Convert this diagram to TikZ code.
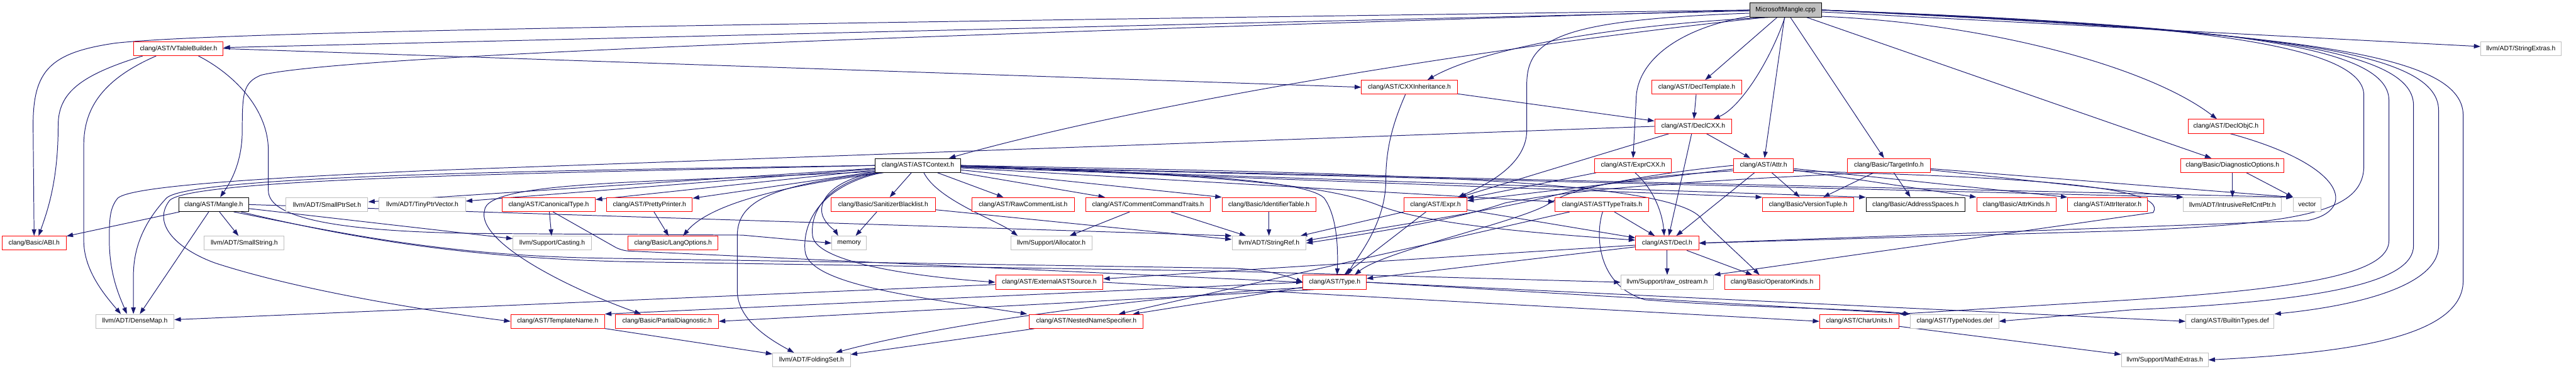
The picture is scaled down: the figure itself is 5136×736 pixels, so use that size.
\documentclass[tikz,border=0pt]{standalone}
\usepackage{fontspec}
\setmainfont{Liberation Sans}
\usetikzlibrary{arrows.meta,calc}
\definecolor{DepEdge}{HTML}{191970}
\definecolor{DepRed}{HTML}{FF0000}
\definecolor{DepGrey}{HTML}{BFBFBF}
\pgfdeclarelayer{edges}
\pgfsetlayers{edges,main}
\tikzset{
  every node/.style={font=\fontsize{7.4}{9}\selectfont, text=black},
  incfile/.style={rectangle, fill=white, line width=0.7pt, inner sep=0pt,
    minimum height=0.56cm, minimum width=#1*0.02cm},
  redfile/.style={incfile=#1, draw=DepRed},
  blackfile/.style={incfile=#1, draw=black},
  greyfile/.style={incfile=#1, draw=DepGrey},
  rootfile/.style={incfile=#1, draw=black, fill=DepGrey},
  dep/.style={-{Triangle[length=0.26cm,width=0.18cm]}, draw=DepEdge, line width=0.7pt},
}
\begin{document}
\begin{tikzpicture}[x=0.02cm,y=-0.02cm]
  \useasboundingbox (0,0) rectangle (5136,736);
  % rows at y = 20, 97, 174, 252, 330, 408, 485, 563, 641, 718
  \node[rootfile=143] (mm) at (3560,20) {MicrosoftMangle.cpp};
  \node[redfile=178] (vtb) at (356,97) {clang/AST/VTableBuilder.h};
  \node[greyfile=160] (strext) at (5026,97) {llvm/ADT/StringExtras.h};
  \node[redfile=191] (cxxinh) at (2810,174) {clang/AST/CXXInheritance.h};
  \node[redfile=179] (decltpl) at (3383,174) {clang/AST/DeclTemplate.h};
  \node[redfile=154] (declcxx) at (3376,252) {clang/AST/DeclCXX.h};
  \node[redfile=151] (declobjc) at (4438,252) {clang/AST/DeclObjC.h};
  \node[blackfile=171] (astctx) at (1830,330) {clang/AST/ASTContext.h};
  \node[redfile=153] (exprcxx) at (3256,330) {clang/AST/ExprCXX.h};
  \node[redfile=120] (attr) at (3516,330) {clang/AST/Attr.h};
  \node[redfile=165] (tgtinfo) at (3766,330) {clang/Basic/TargetInfo.h};
  \node[redfile=206] (diagopt) at (4451,330) {clang/Basic/DiagnosticOptions.h};
  \node[blackfile=139] (mangle) at (426,408) {clang/AST/Mangle.h};
  \node[greyfile=163] (smallptrset) at (652,408) {llvm/ADT/SmallPtrSet.h};
  \node[greyfile=172] (tinyptrvec) at (842,408) {llvm/ADT/TinyPtrVector.h};
  \node[redfile=186] (canontype) at (1094,408) {clang/AST/CanonicalType.h};
  \node[redfile=171] (prettypr) at (1295,408) {clang/AST/PrettyPrinter.h};
  \node[redfile=208] (sanitizer) at (1761,408) {clang/Basic/SanitizerBlacklist.h};
  \node[redfile=204] (rawcomment) at (2040,408) {clang/AST/RawCommentList.h};
  \node[redfile=248] (commentcmd) at (2289,408) {clang/AST/CommentCommandTraits.h};
  \node[redfile=187] (identtable) at (2530,408) {clang/Basic/IdentifierTable.h};
  \node[redfile=125] (expr) at (2862,408) {clang/AST/Expr.h};
  \node[redfile=187] (asttypetr) at (3194,408) {clang/AST/ASTTypeTraits.h};
  \node[redfile=182] (versiontup) at (3605,408) {clang/Basic/VersionTuple.h};
  \node[blackfile=197] (addrspaces) at (3819,408) {clang/Basic/AddressSpaces.h};
  \node[redfile=158] (attrkinds) at (4020,408) {clang/Basic/AttrKinds.h};
  \node[redfile=159] (attriter) at (4202,408) {clang/AST/AttrIterator.h};
  \node[greyfile=195] (intrref) at (4451,408) {llvm/ADT/IntrusiveRefCntPtr.h};
  \node[greyfile=56] (vector) at (4600,408) {vector};
  \node[redfile=128] (abi) at (68,485) {clang/Basic/ABI.h};
  \node[greyfile=159] (smallstr) at (487,485) {llvm/ADT/SmallString.h};
  \node[greyfile=156] (casting) at (1101,485) {llvm/Support/Casting.h};
  \node[redfile=179] (langopt) at (1342,485) {clang/Basic/LangOptions.h};
  \node[greyfile=69] (memory) at (1693,485) {memory};
  \node[greyfile=162] (allocator) at (2096,485) {llvm/Support/Allocator.h};
  \node[greyfile=147] (stringref) at (2530,485) {llvm/ADT/StringRef.h};
  \node[redfile=126] (decl) at (3324,485) {clang/AST/Decl.h};
  \node[redfile=214] (extast) at (2092,563) {clang/AST/ExternalASTSource.h};
  \node[redfile=126] (type) at (2661,563) {clang/AST/Type.h};
  \node[greyfile=185] (rawos) at (3324,563) {llvm/Support/raw\_ostream.h};
  \node[redfile=189] (opkinds) at (3533,563) {clang/Basic/OperatorKinds.h};
  \node[greyfile=156] (densemap) at (269,641) {llvm/ADT/DenseMap.h};
  \node[redfile=187] (tmplname) at (1112,641) {clang/AST/TemplateName.h};
  \node[redfile=205] (partdiag) at (1330,641) {clang/Basic/PartialDiagnostic.h};
  \node[redfile=227] (nns) at (2166,641) {clang/AST/NestedNameSpecifier.h};
  \node[redfile=158] (charunits) at (3707,641) {clang/AST/CharUnits.h};
  \node[greyfile=176] (typenodes) at (3897,641) {clang/AST/TypeNodes.def};
  \node[greyfile=176] (builtin) at (4446,641) {clang/AST/BuiltinTypes.def};
  \node[greyfile=155] (foldingset) at (1618,718) {llvm/ADT/FoldingSet.h};
  \node[greyfile=173] (mathext) at (4316,718) {llvm/Support/MathExtras.h};

  \begin{pgfonlayer}{edges}
  % MicrosoftMangle.cpp
  \draw[dep] (mm) -- (vtb);
  \draw[dep] (mm.west) .. controls (1500,48) and (450,62) .. (230,86) .. controls (100,105) and (66,140) .. (66,250) -- (abi.north);
  \draw[dep] (mm.west) .. controls (2200,60) and (700,105) .. (520,150) .. controls (485,165) and (483,185) .. (483,260) .. controls (483,330) and (455,370) .. ($(mangle.north)+(13,0)$);
  \draw[dep] (mm.200) .. controls (3000,90) and (2300,200) .. ($(astctx.north)+(62,0)$);
  \draw[dep] (mm.205) .. controls (3200,50) and (2950,100) .. ($(cxxinh.north)+(36,0)$);
  \draw[dep] (mm) -- (decltpl);
  \draw[dep] (mm.-95) .. controls (3530,120) and (3470,215) .. ($(declcxx.north)+(40,0)$);
  \draw[dep] (mm.185) .. controls (3100,40) and (3044,80) .. (3044,170) -- (3044,260) .. controls (3044,330) and (2960,370) .. ($(expr.north)+(45,0)$);
  \draw[dep] (mm.190) .. controls (3350,55) and (3262,120) .. (3262,200) -- (exprcxx.north);
  \draw[dep] (mm) -- (attr);
  \draw[dep] (mm) -- (tgtinfo);
  \draw[dep] (mm) -- (diagopt);
  \draw[dep] (mm.-10) .. controls (3950,45) and (4280,130) .. ($(declobjc.north)+(-18,0)$);
  \draw[dep] (mm) -- (strext);
  \draw[dep] (mm.east) .. controls (4300,45) and (4713,80) .. (4713,190) -- (4713,330) .. controls (4713,420) and (4600,445) .. (4250,460) -- (decl.east);
  \draw[dep] (mm.east) .. controls (4400,50) and (4763,85) .. (4763,200) -- (4763,480) .. controls (4763,545) and (4600,575) .. (4250,598) -- (charunits.north east);
  \draw[dep] (mm.east) .. controls (4450,55) and (4812,90) .. (4812,210) -- (4812,490) .. controls (4812,560) and (4650,600) .. (4250,618) -- (typenodes.east);
  \draw[dep] (mm.east) .. controls (4500,60) and (4862,95) .. (4862,220) -- (4862,490) .. controls (4862,570) and (4700,610) .. (builtin.north east);
  \draw[dep] (mm.east) .. controls (4550,65) and (4911,100) .. (4911,230) -- (4911,560) .. controls (4911,680) and (4650,705) .. (mathext.east);
  % VTableBuilder.h
  \draw[dep] ($(vtb.south west)+(18,0)$) .. controls (160,150) and (116,185) .. (116,250) .. controls (116,360) and (95,420) .. ($(abi.north)+(9,0)$);
  \draw[dep] ($(vtb.south west)+(45,0)$) .. controls (200,160) and (167,220) .. (167,290) -- (167,480) .. controls (167,540) and (210,590) .. ($(densemap.north)+(-28,0)$);
  \draw[dep] (vtb.east) -- (cxxinh.west);
  \draw[dep] ($(vtb.south east)+(-50,0)$) .. controls (470,150) and (535,220) .. (535,300) -- (535,380) .. controls (535,440) and (700,465) .. (1000,466) -- (1480,469) -- (memory.west);
  % Mangle.h
  \draw[dep] (mangle) -- (abi);
  \draw[dep] (mangle) -- (densemap);
  \draw[dep] (mangle) -- (smallstr);
  \draw[dep] (mangle) -- (casting);
  \draw[dep] (mangle.east) -- (stringref.north west);
  \draw[dep] (mangle.-20) .. controls (700,470) and (900,510) .. (1200,515) -- (2450,535) .. controls (2530,537) and (2570,552) .. (type.west);
  \draw[dep] (mangle.-15) .. controls (720,480) and (950,515) .. (1250,522) -- (2450,541) -- (rawos.west);
  % ASTContext.h
  \draw[dep] (astctx) -- (smallptrset);
  \draw[dep] (astctx) -- (tinyptrvec);
  \draw[dep] (astctx) -- (canontype);
  \draw[dep] (astctx) -- (prettypr);
  \draw[dep] (astctx.192) .. controls (1600,365) and (1420,400) .. ($(langopt.north)+(20,0)$);
  \draw[dep] (astctx.south west) .. controls (1660,360) and (1630,400) .. (1640,430) .. controls (1648,450) and (1665,460) .. ($(memory.north)+(-22,0)$);
  \draw[dep] (astctx.west) .. controls (1100,340) and (380,350) .. (332,395) .. controls (290,440) and (266,490) .. (266,550) -- ($(densemap.north)+(-3,0)$);
  \draw[dep] (astctx.west) .. controls (1100,345) and (380,355) .. (338,400) .. controls (300,450) and (360,500) .. (430,525) .. controls (600,580) and (850,620) .. (tmplname.west);
  \draw[dep] (astctx.188) .. controls (1300,365) and (970,360) .. (966,420) .. controls (950,480) and (1120,570) .. ($(partdiag.north)+(-52,0)$);
  \draw[dep] ($(astctx.south west)+(3,0)$) .. controls (1540,370) and (1470,400) .. (1470,470) -- (1470,580) .. controls (1470,640) and (1540,680) .. ($(foldingset.north)+(-35,0)$);
  \draw[dep] ($(astctx.south west)+(8,0)$) .. controls (1650,365) and (1615,420) .. (1620,470) .. controls (1625,520) and (1800,550) .. (extast.west);
  \draw[dep] ($(astctx.south west)+(13,0)$) .. controls (1640,370) and (1600,440) .. (1605,500) .. controls (1610,570) and (1850,595) .. ($(nns.north west)+(-4,0)$);
  \draw[dep] ($(astctx.south)+(12,0)$) .. controls (1870,400) and (1990,440) .. ($(allocator.north)+(-67,0)$);
  \draw[dep] (astctx) -- (sanitizer);
  \draw[dep] (astctx) -- (rawcomment);
  \draw[dep] (astctx) -- (commentcmd);
  \draw[dep] (astctx) -- (identtable.north west);
  \draw[dep] (astctx) -- (asttypetr);
  \draw[dep] (astctx) -- (versiontup.north west);
  \draw[dep] (astctx) -- (addrspaces.north west);
  \draw[dep] (astctx) -- (intrref.north west);
  \draw[dep] (astctx) -- (vector.north west);
  \draw[dep] (astctx.east) .. controls (2300,345) and (2600,355) .. (2640,395) .. controls (2665,430) and (2668,490) .. ($(type.north)+(5,0)$);
  \draw[dep] (astctx.east) .. controls (2450,350) and (2650,370) .. (2750,410) .. controls (2850,450) and (3100,468) .. ($(decl.west)+(0,-6)$);
  \draw[dep] (astctx.east) .. controls (2700,345) and (3350,355) .. (3395,440) .. controls (3430,475) and (3480,520) .. ($(opkinds.north)+(-25,0)$);
  % row 5 headers
  \draw[dep] (canontype) -- (casting);
  \draw[dep, rounded corners=8pt] (canontype.-60) -- (1239,500) -- (type.west);
  \draw[dep] (prettypr) -- (langopt);
  \draw[dep] (sanitizer) -- (memory);
  \draw[dep] (sanitizer) -- (stringref);
  \draw[dep] (commentcmd) -- (allocator);
  \draw[dep] (commentcmd) -- (stringref);
  \draw[dep] (identtable) -- (stringref);
  % CXXInheritance.h, DeclTemplate.h, DeclCXX.h
  \draw[dep] (cxxinh) -- (declcxx);
  \draw[dep] ($(cxxinh.south)+(-8,0)$) .. controls (2775,250) and (2763,300) .. (2763,360) .. controls (2763,450) and (2700,520) .. ($(type.north)+(26,0)$);
  \draw[dep] (decltpl) -- (declcxx);
  \draw[dep] (declcxx.west) -- (860,340) .. controls (500,356) and (262,372) .. (235,395) .. controls (218,415) and (218,440) .. (218,480) .. controls (218,550) and (240,595) .. ($(densemap.north)+(-16,0)$);
  \draw[dep] (declcxx) -- (expr);
  \draw[dep] (declcxx) -- (decl);
  \draw[dep] (declcxx) -- (attr);
  % ExprCXX.h, Expr.h
  \draw[dep] (exprcxx) -- (expr);
  \draw[dep] (exprcxx.-75) .. controls (3300,380) and (3315,430) .. ($(decl.north)+(-6,0)$);
  \draw[dep] (expr) -- (stringref);
  \draw[dep] (expr) -- (type);
  \draw[dep] (expr) -- (decl);
  % Attr.h
  \draw[dep] (attr) -- (expr);
  \draw[dep] (attr.west) .. controls (3300,345) and (3180,370) .. (3090,392) .. controls (2950,425) and (2750,455) .. ($(stringref.east)+(0,-5)$);
  \draw[dep] (attr.190) .. controls (3300,350) and (3150,365) .. (3090,405) .. controls (3040,440) and (2760,500) .. ($(type.north)+(40,0)$);
  \draw[dep] (attr) -- (decl);
  \draw[dep] (attr) -- (versiontup);
  \draw[dep] (attr) -- (attrkinds.north west);
  \draw[dep] (attr) -- (attriter.north west);
  \draw[dep] (attr.-10) .. controls (3950,352) and (4330,365) .. (4293,424) -- (rawos.north east);
  % TargetInfo.h, DiagnosticOptions.h, DeclObjC.h
  \draw[dep] (tgtinfo) -- (versiontup);
  \draw[dep] (tgtinfo) -- (addrspaces);
  \draw[dep] (tgtinfo) -- (intrref.north west);
  \draw[dep] (tgtinfo) -- (vector.north west);
  \draw[dep] (tgtinfo.200) .. controls (3400,360) and (3150,375) .. (3000,405) .. controls (2900,440) and (2700,470) .. (stringref.east);
  \draw[dep] (diagopt) -- (intrref);
  \draw[dep] (diagopt) -- (vector);
  \draw[dep] (declobjc.-60) .. controls (4680,330) and (4700,420) .. (4600,440) -- (decl.east);
  % ASTTypeTraits.h
  \draw[dep] (asttypetr) -- (decl);
  \draw[dep] (asttypetr) -- (nns);
  \draw[dep] (asttypetr.-85) .. controls (3180,470) and (3185,570) .. (3280,598) .. controls (3500,615) and (3700,615) .. (typenodes.north west);
  % Decl.h
  \draw[dep] (decl) -- (type);
  \draw[dep] (decl) -- (extast);
  \draw[dep] (decl) -- (rawos);
  \draw[dep] (decl) -- (opkinds);
  % ExternalASTSource.h, Type.h
  \draw[dep] (extast) -- (densemap);
  \draw[dep] (extast.east) -- (charunits.west);
  \draw[dep] (type.west) -- (tmplname.north east);
  \draw[dep] (type.200) -- (partdiag.east);
  \draw[dep] (type) -- (nns);
  \draw[dep] (type.190) .. controls (2350,585) and (1900,640) .. ($(foldingset.north east)+(-30,0)$);
  \draw[dep] (type.east) -- (typenodes.north west);
  \draw[dep] (type.east) -- (builtin.west);
  % bottom rows
  \draw[dep] (tmplname) -- (foldingset);
  \draw[dep] (nns) -- (foldingset);
  \draw[dep] (charunits) -- (mathext);
  \end{pgfonlayer}
\end{tikzpicture}
\end{document}
